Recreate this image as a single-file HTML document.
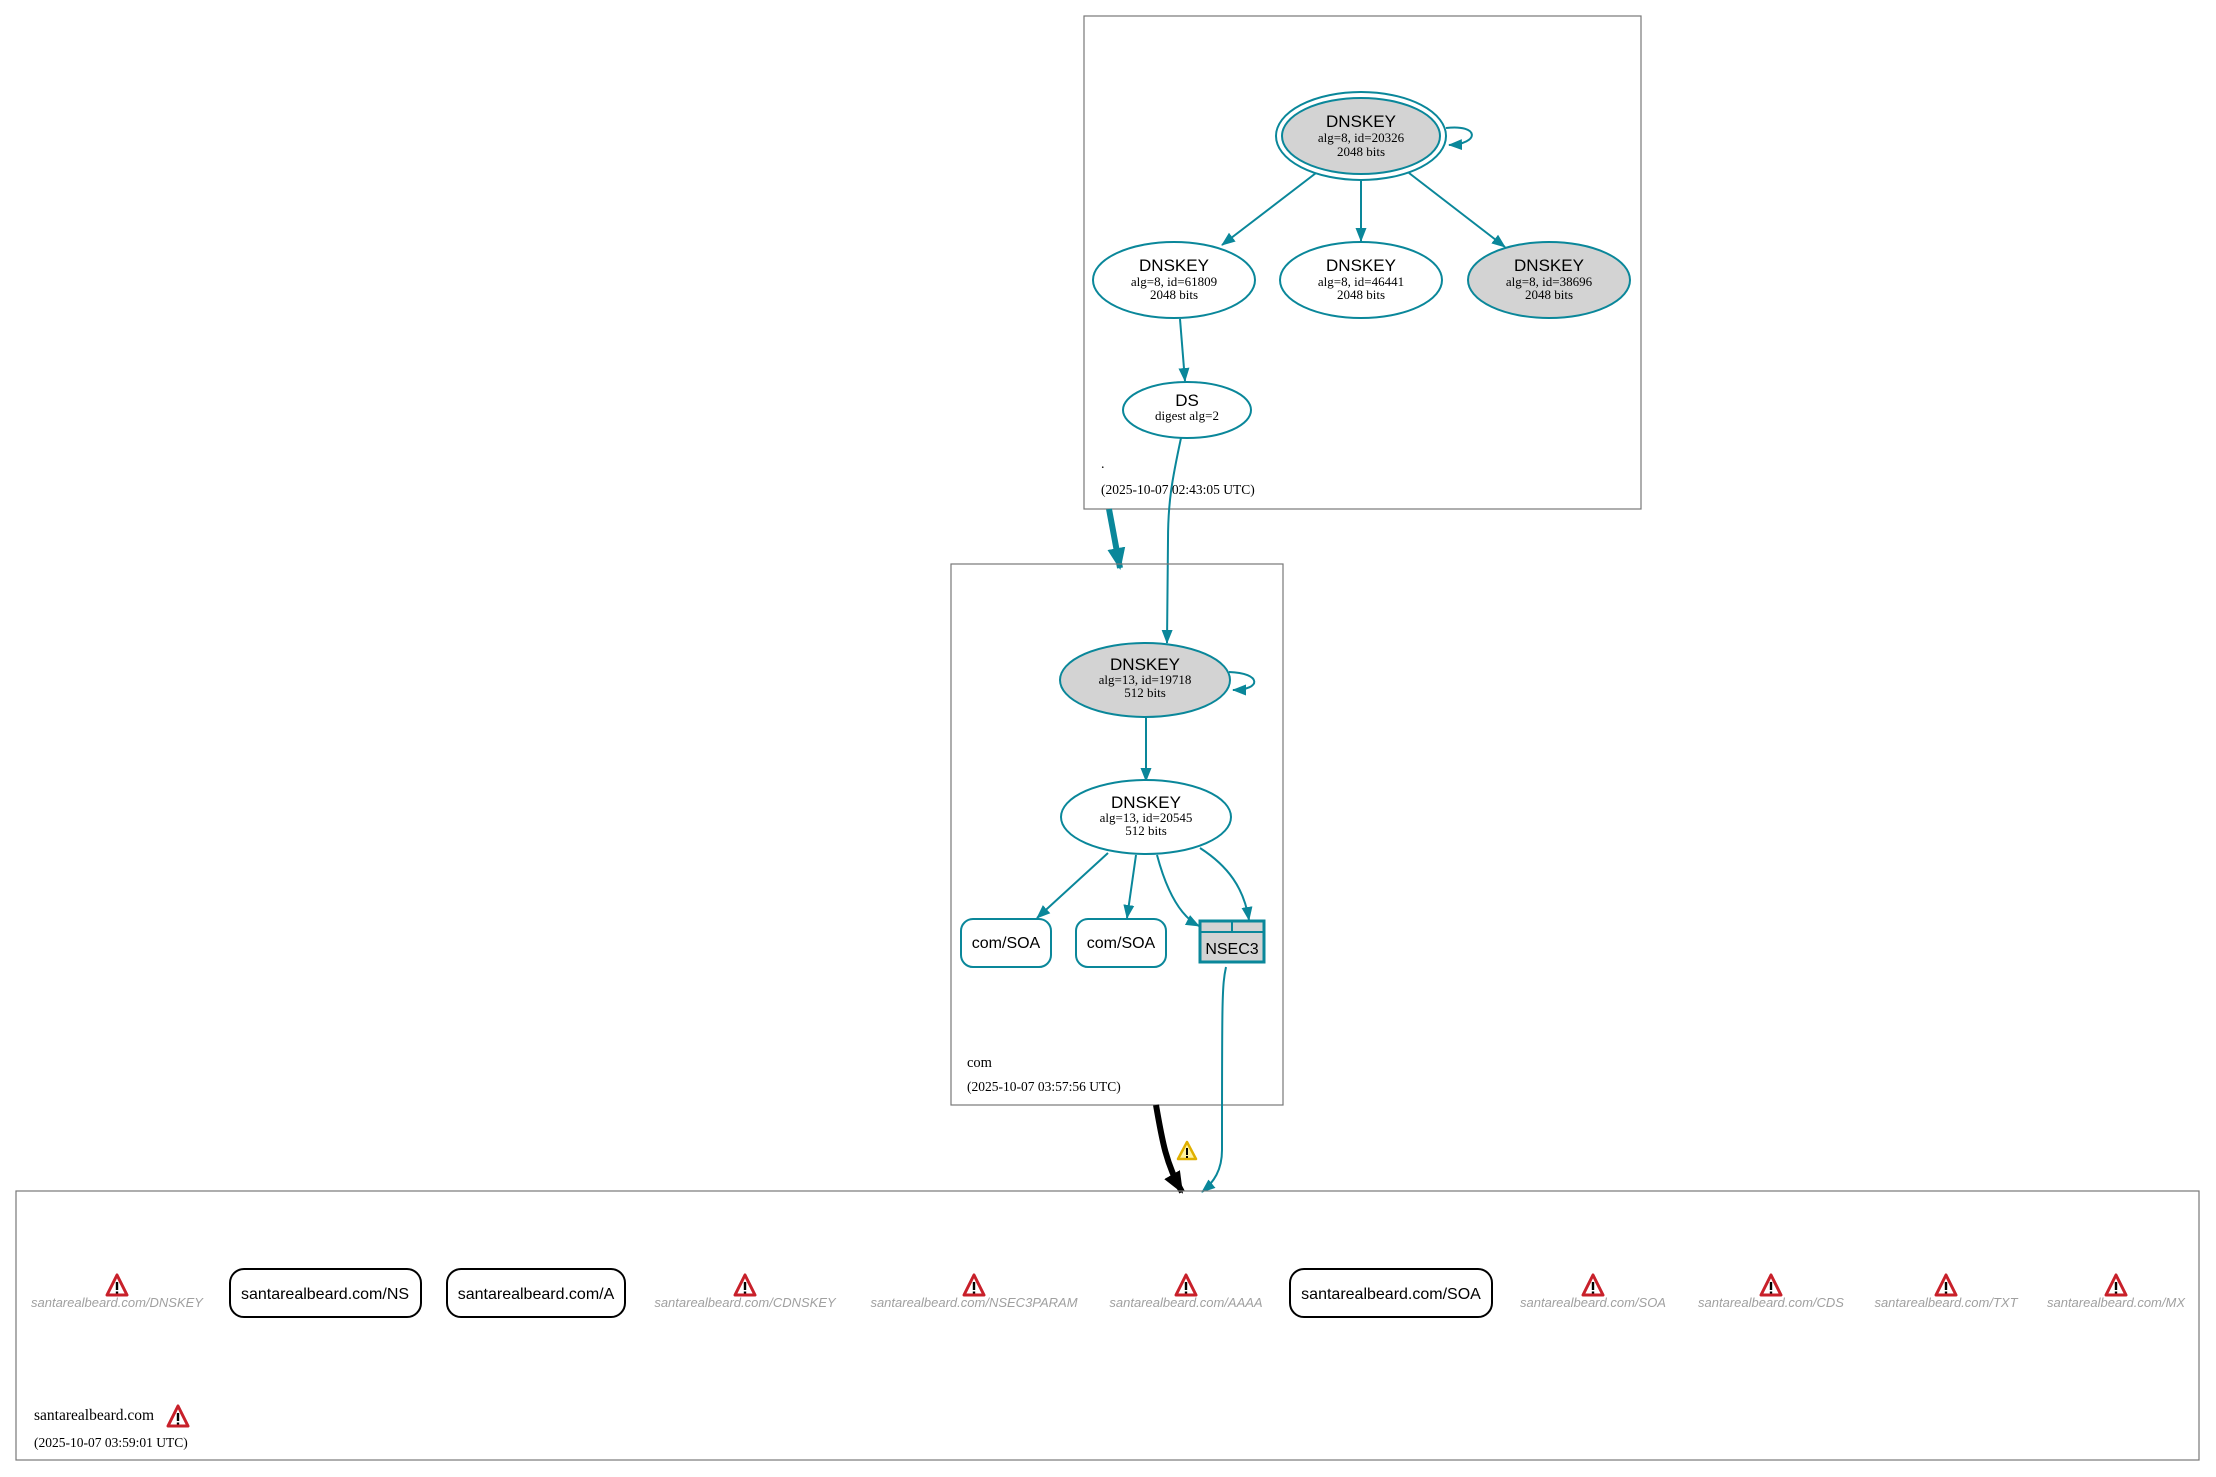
<!DOCTYPE html>
<html><head><meta charset="utf-8"><style>
html,body{margin:0;padding:0;background:#fff;}
svg{display:block;}
.s{font-family:"Liberation Sans",sans-serif;}
.r{font-family:"Liberation Serif",serif;}
.g{font-family:"Liberation Sans",sans-serif;font-style:italic;fill:#a0a0a0;font-size:13px;}
</style></head><body>
<svg width="2216" height="1477" viewBox="0 0 2216 1477" xmlns="http://www.w3.org/2000/svg">
<defs>
<marker id="ah" markerWidth="14" markerHeight="12" refX="13" refY="6" orient="auto" markerUnits="userSpaceOnUse" viewBox="0 0 14 12"><path d="M0,0.5 L14,6 L0,11.5 z" fill="#0a879a"/></marker>
<marker id="ahb" markerWidth="22" markerHeight="20" refX="20" refY="10" orient="auto" markerUnits="userSpaceOnUse" viewBox="0 0 22 20"><path d="M0,1 L22,10 L0,19 z" fill="#0a879a"/></marker>
<marker id="ahk" markerWidth="22" markerHeight="20" refX="20" refY="10" orient="auto" markerUnits="userSpaceOnUse" viewBox="0 0 22 20"><path d="M0,1 L22,10 L0,19 z" fill="#000"/></marker>
<g id="warn"><path d="M0,-12 L10,8 L-10,8 Z" fill="#fff" stroke="#c8202a" stroke-width="3" stroke-linejoin="round"/><rect x="-1.2" y="-5" width="2.4" height="8" fill="#000"/><rect x="-1.2" y="4.5" width="2.4" height="2" fill="#000"/></g>
</defs>

<rect x="1084" y="16" width="557" height="493" fill="none" stroke="#777" stroke-width="1.2"/>
<ellipse cx="1361" cy="136" rx="85" ry="44" fill="none" stroke="#0a879a" stroke-width="2"/>
<ellipse cx="1361" cy="136" rx="79" ry="38" fill="#d3d3d3" stroke="#0a879a" stroke-width="2"/>
<text x="1361" y="127" class="s" font-size="17" text-anchor="middle">DNSKEY</text>
<text x="1361" y="142" class="r" font-size="13" text-anchor="middle">alg=8, id=20326</text>
<text x="1361" y="156" class="r" font-size="13" text-anchor="middle">2048 bits</text>
<path d="M1446,128 C1480,124 1480,144 1449,145" fill="none" stroke="#0a879a" stroke-width="2" marker-end="url(#ah)"/>

<ellipse cx="1174" cy="280" rx="81" ry="38" fill="#fff" stroke="#0a879a" stroke-width="2"/>
<text x="1174" y="271" class="s" font-size="17" text-anchor="middle">DNSKEY</text>
<text x="1174" y="286" class="r" font-size="13" text-anchor="middle">alg=8, id=61809</text>
<text x="1174" y="299" class="r" font-size="13" text-anchor="middle">2048 bits</text>
<ellipse cx="1361" cy="280" rx="81" ry="38" fill="#fff" stroke="#0a879a" stroke-width="2"/>
<text x="1361" y="271" class="s" font-size="17" text-anchor="middle">DNSKEY</text>
<text x="1361" y="286" class="r" font-size="13" text-anchor="middle">alg=8, id=46441</text>
<text x="1361" y="299" class="r" font-size="13" text-anchor="middle">2048 bits</text>
<ellipse cx="1549" cy="280" rx="81" ry="38" fill="#d3d3d3" stroke="#0a879a" stroke-width="2"/>
<text x="1549" y="271" class="s" font-size="17" text-anchor="middle">DNSKEY</text>
<text x="1549" y="286" class="r" font-size="13" text-anchor="middle">alg=8, id=38696</text>
<text x="1549" y="299" class="r" font-size="13" text-anchor="middle">2048 bits</text>
<path d="M1316,173 L1222,245" stroke="#0a879a" stroke-width="2" marker-end="url(#ah)"/>
<path d="M1361,181 L1361,241" stroke="#0a879a" stroke-width="2" marker-end="url(#ah)"/>
<path d="M1409,173 L1505,247" stroke="#0a879a" stroke-width="2" marker-end="url(#ah)"/>

<ellipse cx="1187" cy="410" rx="64" ry="28" fill="#fff" stroke="#0a879a" stroke-width="2"/>
<text x="1187" y="406" class="s" font-size="17" text-anchor="middle">DS</text>
<text x="1187" y="420" class="r" font-size="13" text-anchor="middle">digest alg=2</text>
<path d="M1180,319 L1185,381" stroke="#0a879a" stroke-width="2" marker-end="url(#ah)"/>
<text x="1101" y="468" class="r" font-size="14">.</text>
<text x="1101" y="494" class="r" font-size="13.5">(2025-10-07 02:43:05 UTC)</text>

<path d="M1181,438 C1172,480 1168,502 1168,540 L1167,643" fill="none" stroke="#0a879a" stroke-width="2" marker-end="url(#ah)"/>
<path d="M1109,509 L1120,568" stroke="#0a879a" stroke-width="6" marker-end="url(#ahb)"/>

<rect x="951" y="564" width="332" height="541" fill="none" stroke="#777" stroke-width="1.2"/>
<ellipse cx="1145" cy="680" rx="85" ry="37" fill="#d3d3d3" stroke="#0a879a" stroke-width="2"/>
<text x="1145" y="670" class="s" font-size="17" text-anchor="middle">DNSKEY</text>
<text x="1145" y="684" class="r" font-size="13" text-anchor="middle">alg=13, id=19718</text>
<text x="1145" y="697" class="r" font-size="13" text-anchor="middle">512 bits</text>
<path d="M1229,672 C1262,673 1262,690 1233,690" fill="none" stroke="#0a879a" stroke-width="2" marker-end="url(#ah)"/>
<path d="M1146,718 L1146,781" stroke="#0a879a" stroke-width="2" marker-end="url(#ah)"/>
<ellipse cx="1146" cy="817" rx="85" ry="37" fill="#fff" stroke="#0a879a" stroke-width="2"/>
<text x="1146" y="808" class="s" font-size="17" text-anchor="middle">DNSKEY</text>
<text x="1146" y="822" class="r" font-size="13" text-anchor="middle">alg=13, id=20545</text>
<text x="1146" y="835" class="r" font-size="13" text-anchor="middle">512 bits</text>
<rect x="961" y="919" width="90" height="48" rx="12" fill="#fff" stroke="#0a879a" stroke-width="2"/>
<text x="1006" y="948" class="s" font-size="16" text-anchor="middle">com/SOA</text>
<rect x="1076" y="919" width="90" height="48" rx="12" fill="#fff" stroke="#0a879a" stroke-width="2"/>
<text x="1121" y="948" class="s" font-size="16" text-anchor="middle">com/SOA</text>
<rect x="1200" y="921" width="64" height="41" fill="#d3d3d3" stroke="#0a879a" stroke-width="3"/>
<line x1="1200" y1="932" x2="1264" y2="932" stroke="#0a879a" stroke-width="2"/>
<line x1="1232" y1="921" x2="1232" y2="932" stroke="#0a879a" stroke-width="2"/>
<text x="1232" y="954" class="s" font-size="16" text-anchor="middle">NSEC3</text>
<path d="M1108,853 L1037,918" stroke="#0a879a" stroke-width="2" marker-end="url(#ah)"/>
<path d="M1136,855 L1127,918" stroke="#0a879a" stroke-width="2" marker-end="url(#ah)"/>
<path d="M1157,855 C1165,885 1178,915 1199,926" fill="none" stroke="#0a879a" stroke-width="2" marker-end="url(#ah)"/>
<path d="M1200,848 C1228,866 1244,888 1249,920" fill="none" stroke="#0a879a" stroke-width="2" marker-end="url(#ah)"/>
<text x="967" y="1067" class="r" font-size="14.5">com</text>
<text x="967" y="1091" class="r" font-size="13.5">(2025-10-07 03:57:56 UTC)</text>

<path d="M1226,967 C1222,985 1222,1000 1222,1150 C1222,1170 1214,1182 1202,1192" fill="none" stroke="#0a879a" stroke-width="2" marker-end="url(#ah)"/>
<path d="M1156,1105 C1162,1140 1166,1164 1182,1192" fill="none" stroke="#000" stroke-width="6" marker-end="url(#ahk)"/>
<g transform="translate(1187,1152)"><path d="M0,-10 L9,7 L-9,7 Z" fill="#fff3a0" stroke="#e0b000" stroke-width="2.5" stroke-linejoin="round"/><rect x="-1" y="-4" width="2" height="7" fill="#000"/><rect x="-1" y="4" width="2" height="2" fill="#000"/></g>

<rect x="16" y="1191" width="2183" height="269" fill="none" stroke="#777" stroke-width="1.2"/>
<use href="#warn" x="117" y="1287"/>
<text x="117" y="1307" class="g" text-anchor="middle">santarealbeard.com/DNSKEY</text>
<rect x="230" y="1269" width="191" height="48" rx="14" fill="#fff" stroke="#000" stroke-width="2"/>
<text x="325" y="1299" class="s" font-size="16" text-anchor="middle">santarealbeard.com/NS</text>
<rect x="447" y="1269" width="178" height="48" rx="14" fill="#fff" stroke="#000" stroke-width="2"/>
<text x="536" y="1299" class="s" font-size="16" text-anchor="middle">santarealbeard.com/A</text>
<use href="#warn" x="745" y="1287"/>
<text x="745" y="1307" class="g" text-anchor="middle">santarealbeard.com/CDNSKEY</text>
<use href="#warn" x="974" y="1287"/>
<text x="974" y="1307" class="g" text-anchor="middle">santarealbeard.com/NSEC3PARAM</text>
<use href="#warn" x="1186" y="1287"/>
<text x="1186" y="1307" class="g" text-anchor="middle">santarealbeard.com/AAAA</text>
<rect x="1290" y="1269" width="202" height="48" rx="14" fill="#fff" stroke="#000" stroke-width="2"/>
<text x="1391" y="1299" class="s" font-size="16" text-anchor="middle">santarealbeard.com/SOA</text>
<use href="#warn" x="1593" y="1287"/>
<text x="1593" y="1307" class="g" text-anchor="middle">santarealbeard.com/SOA</text>
<use href="#warn" x="1771" y="1287"/>
<text x="1771" y="1307" class="g" text-anchor="middle">santarealbeard.com/CDS</text>
<use href="#warn" x="1946" y="1287"/>
<text x="1946" y="1307" class="g" text-anchor="middle">santarealbeard.com/TXT</text>
<use href="#warn" x="2116" y="1287"/>
<text x="2116" y="1307" class="g" text-anchor="middle">santarealbeard.com/MX</text>
<text x="34" y="1420" class="r" font-size="15.5">santarealbeard.com</text>
<use href="#warn" x="178" y="1418"/>
<text x="34" y="1447" class="r" font-size="13.5">(2025-10-07 03:59:01 UTC)</text>
</svg>
</body></html>
